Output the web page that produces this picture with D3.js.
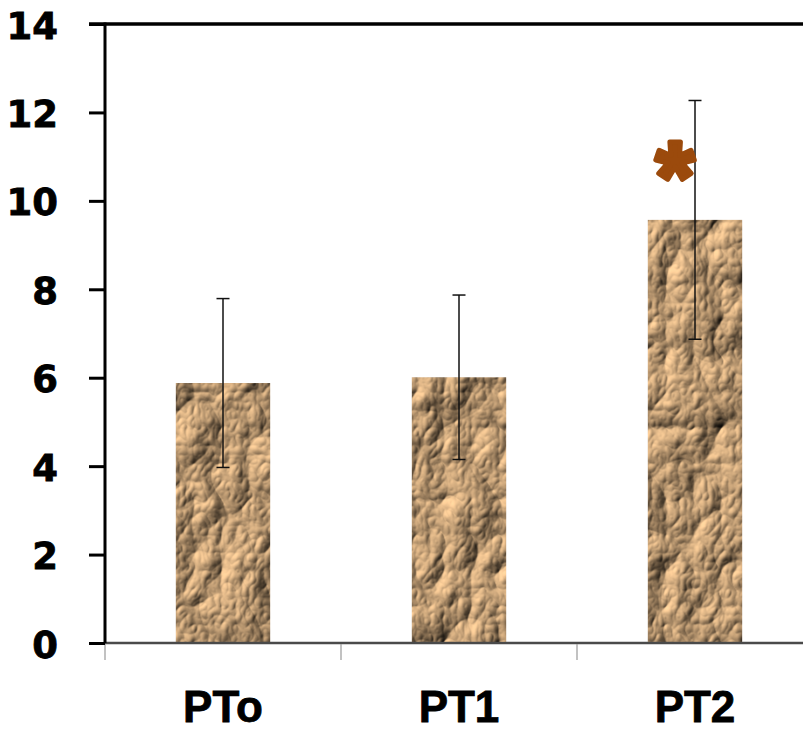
<!DOCTYPE html>
<html>
<head>
<meta charset="utf-8">
<script src="https://cdn.jsdelivr.net/npm/d3@7"></script>
<style>
  html, body { margin: 0; padding: 0; background: #fff; }
  svg { display: block; }
</style>
</head>
<body>
<svg id="chart" width="803" height="733"></svg>
<script>
const categories = ["PTo", "PT1", "PT2"];
const means = [5.88, 6.01, 9.57];
const errors = [1.91, 1.86, 2.70];
const yTicks = [0, 2, 4, 6, 8, 10, 12, 14];
const significance = ["", "", "*"];

(function () {
const svg = d3.select("#chart");
const W = 803, H = 733;
const pLeft = 105, pRight = 813, pTop = 24, pBottom = 643;

const x = d3.scaleBand().domain(categories).range([pLeft, pRight])
  .paddingInner(0.6).paddingOuter(0.3);
const y = d3.scaleLinear().domain([0, 14]).range([pBottom, pTop]);
const step = x.step();

// crumpled paper texture
const defs = svg.append("defs");
const f = defs.append("filter").attr("id", "paper")
  .attr("x", 0).attr("y", 0).attr("width", 1).attr("height", 1)
  .attr("color-interpolation-filters", "sRGB");
f.append("feTurbulence").attr("type", "turbulence")
  .attr("baseFrequency", "0.018 0.014").attr("numOctaves", 4).attr("seed", 11).attr("result", "noise");
const light = f.append("feDiffuseLighting").attr("in", "noise")
  .attr("surfaceScale", 6).attr("diffuseConstant", 1.35)
  .attr("lighting-color", "#d0aa7e").attr("result", "lit");
light.append("feDistantLight").attr("azimuth", 225).attr("elevation", 40);
f.append("feComposite").attr("in", "lit").attr("in2", "SourceGraphic").attr("operator", "in");

// bars
svg.append("g").selectAll("rect").data(categories).join("rect")
  .attr("x", d => x(d))
  .attr("y", (d, i) => y(means[i]))
  .attr("width", x.bandwidth())
  .attr("height", (d, i) => y(0) - y(means[i]))
  .attr("fill", "#c9a274")
  .attr("filter", "url(#paper)");

// error bars
const eb = svg.append("g").attr("stroke", "#111").attr("stroke-width", 1.5);
categories.forEach((c, i) => {
  const cx = x(c) + x.bandwidth() / 2;
  eb.append("line").attr("x1", cx).attr("x2", cx)
    .attr("y1", y(means[i] + errors[i])).attr("y2", y(means[i] - errors[i]));
  [means[i] + errors[i], means[i] - errors[i]].forEach(v => {
    eb.append("line").attr("x1", cx - 6.5).attr("x2", cx + 6.5)
      .attr("y1", y(v)).attr("y2", y(v));
  });
});

// x axis (gray line + band boundary ticks)
svg.append("line").attr("x1", pLeft).attr("x2", W).attr("y1", pBottom).attr("y2", pBottom)
  .attr("stroke", "#4a4a4a").attr("stroke-width", 2.5);
const bounds = d3.range(categories.length).map(i => pLeft + i * step);
svg.append("g").selectAll("line").data(bounds).join("line")
  .attr("x1", d => d).attr("x2", d => d)
  .attr("y1", pBottom + 1).attr("y2", pBottom + 17)
  .attr("stroke", "#999").attr("stroke-width", 1.2);

// y axis
const yAxis = svg.append("g").attr("transform", `translate(${pLeft},0)`)
  .call(d3.axisLeft(y).tickValues(yTicks).tickSize(16).tickPadding(31).tickFormat(d3.format("d")));
yAxis.select(".domain").remove();
yAxis.selectAll(".tick line").attr("stroke", "#000").attr("stroke-width", 3);
yAxis.selectAll(".tick text")
  .attr("font-family", "'DejaVu Sans', sans-serif")
  .attr("font-weight", "bold").attr("font-size", 37).attr("fill", "#000")
  .attr("stroke", "#000").attr("stroke-width", 0.8)
  .attr("dy", "0.38em");
svg.append("line").attr("x1", pLeft).attr("x2", pLeft).attr("y1", pTop - 1.5).attr("y2", pBottom)
  .attr("stroke", "#000").attr("stroke-width", 3);
// top border
svg.append("line").attr("x1", pLeft - 16).attr("x2", W).attr("y1", pTop).attr("y2", pTop)
  .attr("stroke", "#000").attr("stroke-width", 3.5);

// category labels
svg.append("g").selectAll("text").data(categories).join("text")
  .attr("x", d => x(d) + x.bandwidth() / 2)
  .attr("y", 722)
  .attr("text-anchor", "middle")
  .attr("font-family", "'Liberation Sans', Arial, sans-serif")
  .attr("font-weight", "bold").attr("font-size", 44).attr("fill", "#000")
  .attr("stroke", "#000").attr("stroke-width", 0.8)
  .text(d => d);

// significance marker
svg.append("g").selectAll("text").data(categories).join("text")
  .attr("x", d => x(d) + x.bandwidth() / 2 - 20)
  .attr("y", (d, i) => y(means[i] + errors[i]) + 111)
  .attr("text-anchor", "middle")
  .attr("font-family", "'Liberation Sans', Arial, sans-serif")
  .attr("font-weight", "bold").attr("font-size", 100)
  .attr("fill", "#9b4a0c").attr("stroke", "#9b4a0c").attr("stroke-width", 5).attr("stroke-linejoin", "round")
  .text((d, i) => significance[i]);
})();
</script>
</body>
</html>
